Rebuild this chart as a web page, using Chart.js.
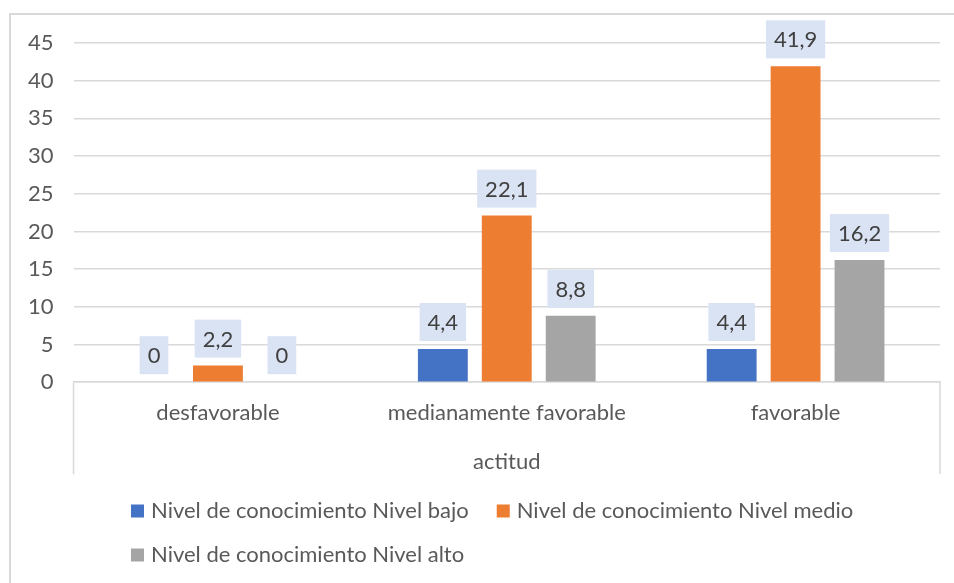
<!DOCTYPE html>
<html>
<head>
<meta charset="utf-8">
<script src="https://cdn.jsdelivr.net/npm/chart.js@4"></script>
<style>
  body { margin: 0; background: #fff; overflow: hidden; }
  #wrap { position: relative; width: 954px; height: 583px; }
  #marco { position: absolute; left: 9px; top: 13px; width: 1000px; height: 700px; border: 2px solid #d9d9d9; }
  canvas { position: absolute; left: 0; top: 0; }
</style>
</head>
<body>
<div id="wrap">
  <div id="marco"></div>
  <canvas id="grafico" width="954" height="583"></canvas>
</div>
<script>
// datos del grafico
const categorias = ["desfavorable", "medianamente favorable", "favorable"];
const nivelBajo = [0, 4.4, 4.4];
const nivelMedio = [2.2, 22.1, 41.9];
const nivelAlto = [0, 8.8, 16.2];
const nombresSeries = [
  "Nivel de conocimiento Nivel bajo",
  "Nivel de conocimiento Nivel medio",
  "Nivel de conocimiento Nivel alto"
];
const tituloEje = "actitud";

const fuente = "Lato, 'Open Sans', sans-serif";
const tam = 22;
const grisTexto = "#595959";
const grisLinea = "#d9d9d9";

// etiquetas de datos con caja celeste
const etiquetas = {
  id: "etiquetas",
  afterDatasetsDraw(chart) {
    const ctx = chart.ctx;
    ctx.save();
    ctx.font = tam + "px " + fuente;
    ctx.textAlign = "center";
    ctx.textBaseline = "middle";
    chart.data.datasets.forEach((ds, i) => {
      const meta = chart.getDatasetMeta(i);
      meta.data.forEach((barra, j) => {
        const texto = String(ds.data[j]).replace(".", ",");
        const ancho = ctx.measureText(texto).width + 16;
        const alto = 38;
        const abajo = barra.y - 8;
        ctx.fillStyle = "#DAE3F3";
        ctx.fillRect(barra.x - ancho / 2, abajo - alto, ancho, alto);
        ctx.fillStyle = "#404040";
        ctx.fillText(texto, barra.x, abajo - alto / 2 + 1);
      });
    });
    ctx.restore();
  }
};

// lineas verticales del eje de categorias y leyenda estilo excel
const extras = {
  id: "extras",
  afterDraw(chart) {
    const ctx = chart.ctx;
    const area = chart.chartArea;
    ctx.save();
    ctx.strokeStyle = grisLinea;
    ctx.lineWidth = 1.5;
    ctx.beginPath();
    ctx.moveTo(area.left, area.bottom);
    ctx.lineTo(area.left, area.bottom + 92);
    ctx.moveTo(area.right, area.bottom);
    ctx.lineTo(area.right, area.bottom + 92);
    ctx.stroke();

    // leyenda
    ctx.font = tam + "px " + fuente;
    ctx.textBaseline = "middle";
    ctx.textAlign = "left";
    const filas = [[0, 1], [2]];
    const yFilas = [511, 555];
    const x0 = 131;
    filas.forEach((fila, f) => {
      let x = x0;
      fila.forEach(i => {
        const ds = chart.data.datasets[i];
        ctx.fillStyle = ds.backgroundColor;
        ctx.fillRect(x, yFilas[f] - 6.5, 13, 13);
        ctx.fillStyle = grisTexto;
        ctx.fillText(ds.label, x + 20, yFilas[f]);
        x += 20 + ctx.measureText(ds.label).width + 28;
      });
    });
    ctx.restore();
  }
};

new Chart(document.getElementById("grafico"), {
  type: "bar",
  data: {
    labels: categorias,
    datasets: [
      { label: nombresSeries[0], data: nivelBajo, backgroundColor: "#4472C4" },
      { label: nombresSeries[1], data: nivelMedio, backgroundColor: "#ED7D31" },
      { label: nombresSeries[2], data: nivelAlto, backgroundColor: "#A5A5A5" }
    ]
  },
  options: {
    responsive: false,
    animation: false,
    categoryPercentage: 0.664,
    barPercentage: 0.78,
    layout: { padding: { left: 8, right: 14, top: 43, bottom: 108 } },
    plugins: {
      legend: { display: false },
      tooltip: { enabled: false }
    },
    scales: {
      x: {
        grid: { display: false },
        border: { display: true, color: grisLinea, width: 1.5 },
        ticks: { color: grisTexto, font: { family: fuente, size: tam }, padding: 10 },
        title: {
          display: true,
          text: tituloEje,
          color: grisTexto,
          font: { family: fuente, size: tam },
          padding: { top: 12, bottom: 0 }
        }
      },
      y: {
        min: 0,
        max: 45,
        ticks: { stepSize: 5, color: grisTexto, font: { family: fuente, size: tam }, padding: 20 },
        grid: { color: grisLinea, lineWidth: 1.5, drawTicks: false },
        border: { display: false }
      }
    }
  },
  plugins: [etiquetas, extras]
});
</script>
</body>
</html>
